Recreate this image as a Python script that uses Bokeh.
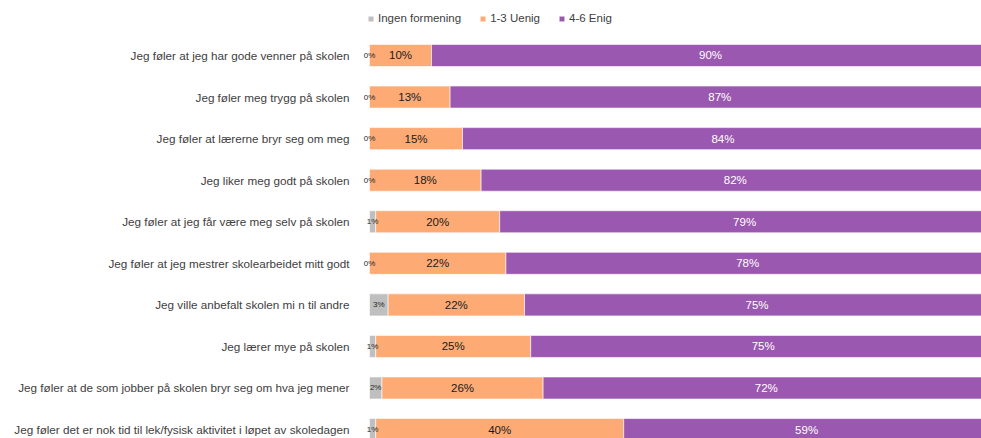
from bokeh.plotting import figure
from bokeh.models import ColumnDataSource, Range1d, FixedTicker, Legend, LegendItem
from bokeh.embed import file_html
from bokeh.resources import INLINE
from bokeh.core.properties import value

categories = [
    "Jeg føler at jeg har gode venner på skolen",
    "Jeg føler meg trygg på skolen",
    "Jeg føler at lærerne bryr seg om meg",
    "Jeg liker meg godt på skolen",
    "Jeg føler at jeg får være meg selv på skolen",
    "Jeg føler at jeg mestrer skolearbeidet mitt godt",
    "Jeg ville anbefalt skolen mi n til andre",
    "Jeg lærer mye på skolen",
    "Jeg føler at de som jobber på skolen bryr seg om hva jeg mener",
    "Jeg føler det er nok tid til lek/fysisk aktivitet i løpet av skoledagen",
]
ingen = [0, 0, 0, 0, 1, 0, 3, 1, 2, 1]
uenig = [10, 13, 15, 18, 20, 22, 22, 25, 26, 40]
enig = [90, 87, 84, 82, 79, 78, 75, 75, 72, 59]
series_names = ["Ingen formening", "1-3 Uenig", "4-6 Enig"]
colors = ["#BFBFBF", "#FDAA74", "#9B58B0"]

FONT = "Liberation Sans"
n = len(categories)
ys = list(range(n))

l0 = [0] * n
r0 = [a for a in ingen]
l1 = r0
r1 = [a + b for a, b in zip(ingen, uenig)]
l2 = r1
r2 = [a + b for a, b in zip(r1, enig)]

src = ColumnDataSource(dict(
    y=ys, l0=l0, r0=r0, l1=l1, r1=r1, l2=l2, r2=r2,
    m0=[(a + b) / 2 for a, b in zip(l0, r0)],
    m1=[(a + b) / 2 for a, b in zip(l1, r1)],
    m2=[(a + b) / 2 for a, b in zip(l2, r2)],
    t0=[f"{v}%" for v in ingen],
    t1=[f"{v}%" for v in uenig],
    t2=[f"{v}%" for v in enig],
))

p = figure(width=981, height=438, output_backend="svg", toolbar_location=None,
           x_range=Range1d(-2.258, 98.71), y_range=Range1d(9.215, -1.323),
           x_axis_location=None, y_axis_location="left",
           min_border_left=355, min_border_right=0, min_border_top=0, min_border_bottom=0)
p.grid.visible = False
p.outline_line_color = None
p.background_fill_color = "white"
p.border_fill_color = "white"

ax = p.yaxis[0]
ax.ticker = FixedTicker(ticks=ys)
ax.major_label_overrides = {i: c for i, c in enumerate(categories)}
ax.axis_line_color = None
ax.major_tick_line_color = None
ax.minor_tick_line_color = None
ax.major_tick_in = 0
ax.major_tick_out = 0
ax.major_label_standoff = 6
ax.major_label_text_font = FONT
ax.major_label_text_font_size = "11.7px"
ax.major_label_text_color = "#404040"

renderers = []
for (lk, rk), col in zip([("l0", "r0"), ("l1", "r1"), ("l2", "r2")], colors):
    r = p.hbar(y="y", left=lk, right=rk, height=0.53, source=src,
               fill_color=col, line_color="white", line_width=1, line_alpha=0.6)
    renderers.append(r)

p.text(x="m0", y="y", text="t0", source=src, text_align="center", text_baseline="middle",
       text_font=value(FONT), text_font_size="8px", text_color="#262626")
p.text(x="m1", y="y", text="t1", source=src, text_align="center", text_baseline="middle",
       text_font=value(FONT), text_font_size="11.5px", text_color="#1a1a1a")
p.text(x="m2", y="y", text="t2", source=src, text_align="center", text_baseline="middle",
       text_font=value(FONT), text_font_size="11.5px", text_color="white")

legend = Legend(items=[LegendItem(label=nm, renderers=[r]) for nm, r in zip(series_names, renderers)],
                orientation="horizontal", location=(12, 413))
legend.label_text_font = FONT
legend.label_text_font_size = "11.5px"
legend.label_text_color = "#404040"
legend.glyph_width = 7
legend.glyph_height = 7
legend.label_standoff = 4
legend.spacing = 18
legend.padding = 0
legend.margin = 0
legend.label_height = 14
legend.border_line_color = None
legend.background_fill_alpha = 0
p.add_layout(legend)

open("out.html", "w").write(file_html(p, INLINE))
